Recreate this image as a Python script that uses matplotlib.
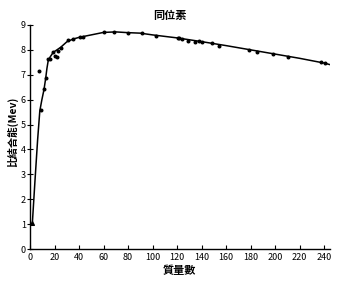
import matplotlib.pyplot as plt

plt.rcParams['font.family'] = ['Noto Sans CJK TC', 'DejaVu Sans']

# measured isotopes (mass number, binding energy per nucleon)
mass_pts = [8.7, 11.4, 12.8, 14.4, 16.3, 19.0, 20.3, 21.7, 23.0, 25.0, 31.2,
            35.2, 40.7, 43.4, 60.5, 68.6, 80.0, 91.7, 103.0, 120.7, 122.0,
            124.0, 128.8, 134.3, 137.8, 140.2, 148.4, 154.0, 179.0, 185.0,
            198.5, 211.0, 237.3, 240.8]
be_pts = [5.58, 6.41, 6.88, 7.64, 7.62, 7.93, 7.75, 7.72, 7.96, 8.06, 8.39,
          8.43, 8.50, 8.50, 8.73, 8.70, 8.66, 8.69, 8.57, 8.49, 8.46,
          8.42, 8.37, 8.33, 8.37, 8.30, 8.26, 8.15, 7.99, 7.93,
          7.83, 7.72, 7.50, 7.46]

# He-4 sits off the curve, deuteron at the start
he_mass, he_be = [7.3], [7.16]
d_mass, d_be = [1.9], [1.03]

# smooth curve drawn through the points
curve_mass = [1.9, 4.0, 6.2, 8.0, 9.7, 11.4, 12.8, 13.8, 14.8, 16.5, 19, 22,
              25, 30, 35, 40, 50, 60, 70, 80, 90, 100, 120, 140, 160, 180,
              200, 220, 240, 246.8]
curve_be = [1.03, 2.7, 4.38, 5.55, 6.0, 6.4, 6.86, 7.25, 7.55, 7.72, 7.9, 8.0,
            8.1, 8.32, 8.43, 8.5, 8.6, 8.7, 8.72, 8.69, 8.67, 8.6, 8.48, 8.33,
            8.17, 8.0, 7.83, 7.66, 7.47, 7.38]

xticks = list(range(0, 241, 20))
yticks = list(range(0, 10))

fig = plt.figure(figsize=(3.59, 2.84), dpi=100)
ax = fig.add_axes([0.0836, 0.1232, 0.836, 0.789])

ax.plot(curve_mass, curve_be, color='black', lw=1.1)
ax.scatter(mass_pts, be_pts, s=3.5, color='black', zorder=3)
ax.scatter(he_mass, he_be, s=3.5, color='black', zorder=3)
ax.scatter(d_mass, d_be, s=7, marker='^', color='black', zorder=3)

ax.set_xlim(0, 245)
ax.set_ylim(0, 9)
ax.set_xticks(xticks)
ax.set_yticks(yticks)
for s in ['top', 'right']:
    ax.spines[s].set_visible(False)
for s in ['left', 'bottom']:
    ax.spines[s].set_linewidth(1.0)
ax.tick_params(axis='x', direction='in', length=3, width=0.8, labelsize=6.5, pad=3)
ax.tick_params(axis='y', direction='inout', length=4, width=0.8, labelsize=6.5, pad=1)

fig.text(0.474, 0.944, '同位素', ha='center', va='center', fontsize=8, fontweight='bold')
fig.text(0.501, 0.049, '質量數', ha='center', va='center', fontsize=8, fontweight='bold')
fig.text(0.036, 0.535, '比結合能(Mev)', ha='center', va='center', rotation=90,
         fontsize=7.5, fontweight='bold')

fig.savefig('out.png', dpi=100)
